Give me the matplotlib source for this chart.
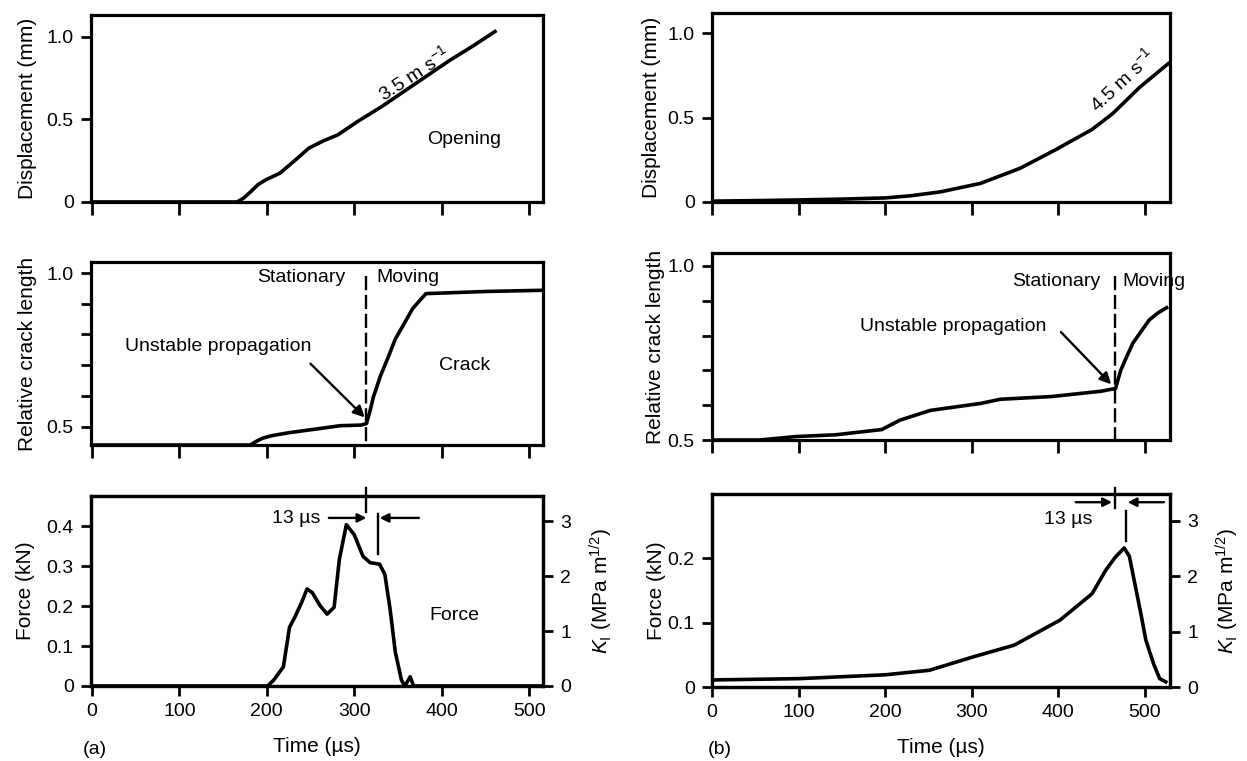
import numpy as np
import matplotlib
matplotlib.use('Agg')
import matplotlib.pyplot as plt

plt.rcParams['font.family'] = ['Liberation Sans', 'DejaVu Sans']
plt.rcParams['mathtext.fontset'] = 'custom'
plt.rcParams['mathtext.rm'] = 'Liberation Sans'
plt.rcParams['mathtext.it'] = 'Liberation Sans:italic'
plt.rcParams['font.size'] = 14
plt.rcParams['axes.labelsize'] = 15

# (a) 3.5 m/s
t_disp_a = [0, 166, 174, 182, 190, 199, 215, 232, 248, 265, 281, 305, 331, 370, 409, 435, 461]
disp_a = [0, 0, 0.025, 0.064, 0.105, 0.134, 0.174, 0.25, 0.325, 0.37, 0.405, 0.49, 0.575, 0.715, 0.855, 0.94, 1.03]

t_crack_a = [0, 181, 188, 195, 205, 225, 251, 284, 308, 314, 318, 322, 330, 339, 347, 356, 367, 382, 450, 516]
crack_a = [0.44, 0.44, 0.452, 0.462, 0.47, 0.48, 0.49, 0.503, 0.505, 0.51, 0.55, 0.597, 0.665, 0.727, 0.785, 0.83, 0.885, 0.933, 0.94, 0.944]

t_force_a = [0, 201, 208, 215, 219, 226, 232, 240, 246, 252, 261, 269, 277, 283, 291, 300,
             310, 318, 329, 335, 341, 347, 354, 358, 364, 368, 516]
force_a = [0, 0, 0.015, 0.036, 0.048, 0.147, 0.172, 0.21, 0.243, 0.234, 0.201, 0.18, 0.197, 0.317, 0.404, 0.379,
           0.325, 0.309, 0.305, 0.28, 0.193, 0.085, 0.015, 0, 0.023, 0, 0]

# (b) 4.5 m/s
t_disp_b = [0, 50, 100, 150, 200, 230, 264, 310, 356, 397, 439, 463, 494, 527]
disp_b = [0.005, 0.008, 0.012, 0.017, 0.024, 0.037, 0.06, 0.11, 0.2, 0.31, 0.43, 0.525, 0.68, 0.82]

t_crack_b = [0, 55, 97, 143, 196, 217, 252, 310, 333, 393, 449, 466, 472, 479, 486, 495, 505, 515, 525]
crack_b = [0.5, 0.5, 0.51, 0.515, 0.53, 0.557, 0.585, 0.605, 0.617, 0.625, 0.64, 0.648, 0.70, 0.74, 0.778, 0.81, 0.845, 0.865, 0.88]

t_force_b = [0, 100, 200, 251, 302, 349, 402, 439, 455, 466, 476, 482, 489, 496, 501, 510, 517, 524]
force_b = [0.011, 0.013, 0.019, 0.026, 0.047, 0.065, 0.104, 0.145, 0.182, 0.202, 0.216, 0.203, 0.156, 0.109, 0.073, 0.036, 0.013, 0.008]

x_ticks = [0, 100, 200, 300, 400, 500]
k_ticks = [0, 1, 2, 3]

LW = 2.6
SPINE = 2.3
ARR = dict(arrowstyle='-|>', color='black', lw=1.7, shrinkA=0, shrinkB=0)


def style(ax):
    for s in ax.spines.values():
        s.set_linewidth(SPINE)
    ax.tick_params(direction='out', length=7.5, width=2.0, pad=5, labelsize=14)


fig = plt.figure(figsize=(12.47, 7.61), dpi=100)

ax1 = fig.add_axes([0.0730, 0.7346, 0.3625, 0.2457])
ax2 = fig.add_axes([0.0730, 0.4152, 0.3625, 0.2405])
ax3 = fig.add_axes([0.0730, 0.0986, 0.3625, 0.2497])
bx1 = fig.add_axes([0.5710, 0.7346, 0.3673, 0.2484])
bx2 = fig.add_axes([0.5710, 0.4218, 0.3673, 0.2457])
bx3 = fig.add_axes([0.5710, 0.0972, 0.3673, 0.2536])

for ax in [ax1, ax2, ax3, bx1, bx2, bx3]:
    style(ax)
    ax.set_xticks(x_ticks)
for ax in [ax1, ax2, bx1, bx2]:
    ax.tick_params(axis='x', length=9.5)

# ---- (a) displacement
ax1.plot(t_disp_a, disp_a, color='black', lw=LW)
ax1.set_xlim(-1, 516)
ax1.set_ylim(0, 1.13)
ax1.set_yticks([0, 0.5, 1.0])
ax1.set_yticklabels(['0', '0.5', '1.0'])
ax1.set_xticklabels([])
ax1.set_ylabel('Displacement (mm)')
ax1.yaxis.set_label_coords(-0.119, 0.5)
ax1.text(368, 0.776, '3.5 m s$^{-1}$', rotation=33, ha='center', va='center', fontsize=14)
ax1.text(426, 0.375, 'Opening', ha='center', va='center', fontsize=14)

# ---- (a) crack
ax2.plot(t_crack_a, crack_a, color='black', lw=LW)
ax2.set_xlim(-1, 516)
ax2.set_ylim(0.44, 1.036)
ax2.set_yticks([0.5, 0.6, 0.7, 0.8, 0.9, 1.0])
ax2.set_yticklabels(['0.5', '', '', '', '', '1.0'])
ax2.set_xticklabels([])
ax2.set_ylabel('Relative crack length')
ax2.yaxis.set_label_coords(-0.119, 0.5)
ax2.plot([313, 313], [0.99, 0.44], color='black', lw=1.7, ls=(0, (6, 2)))
ax2.text(290, 0.985, 'Stationary', ha='right', va='center', fontsize=14)
ax2.text(325, 0.985, 'Moving', ha='left', va='center', fontsize=14)
ax2.text(426, 0.70, 'Crack', ha='center', va='center', fontsize=14)
ax2.text(145, 0.76, 'Unstable propagation', ha='center', va='center', fontsize=14)
ax2.annotate('', xy=(312, 0.53), xytext=(250, 0.705), arrowprops=dict(ARR, mutation_scale=17))

# ---- (a) force
ax3.plot(t_force_a, force_a, color='black', lw=LW)
ax3.set_xlim(-1, 516)
ax3.set_ylim(0, 0.476)
ax3.set_yticks([0, 0.1, 0.2, 0.3, 0.4])
ax3.set_yticklabels(['0', '0.1', '0.2', '0.3', '0.4'])
ax3.set_ylabel('Force (kN)')
ax3.yaxis.set_label_coords(-0.124, 0.5)
ax3.set_xlabel('Time (µs)', labelpad=12)
ax3.plot([314, 314], [0.497, 0.435], color='black', lw=1.7, clip_on=False)
ax3.plot([327, 327], [0.43, 0.33], color='black', lw=1.7)
ax3.annotate('', xy=(314, 0.421), xytext=(271, 0.421), arrowprops=dict(ARR, mutation_scale=13))
ax3.annotate('', xy=(329, 0.421), xytext=(374, 0.421), arrowprops=dict(ARR, mutation_scale=13))
ax3.text(234, 0.419, '13 µs', ha='center', va='center', fontsize=14)
ax3.text(415, 0.176, 'Force', ha='center', va='center', fontsize=14)
ak = ax3.twinx()
style(ak)
ak.set_ylim(0, 0.476 * 7.28)
ak.set_yticks(k_ticks)
ak.set_yticklabels([str(k) for k in k_ticks])
ak.set_ylabel(r'$K_\mathrm{I}$ (MPa m$^{1/2}$)')
ak.yaxis.set_label_coords(1.10, 0.5)
fig.text(95 / 1247, 1 - 750 / 761, '(a)', ha='center', va='center', fontsize=14)

# ---- (b) displacement
bx1.plot(t_disp_b, disp_b, color='black', lw=LW)
bx1.set_xlim(0, 529)
bx1.set_ylim(0, 1.12)
bx1.set_yticks([0, 0.5, 1.0])
bx1.set_yticklabels(['0', '0.5', '1.0'])
bx1.set_xticklabels([])
bx1.set_ylabel('Displacement (mm)')
bx1.yaxis.set_label_coords(-0.111, 0.5)
bx1.text(473, 0.72, '4.5 m s$^{-1}$', rotation=43, ha='center', va='center', fontsize=14)

# ---- (b) crack
bx2.plot(t_crack_b, crack_b, color='black', lw=LW)
bx2.set_xlim(0, 529)
bx2.set_ylim(0.5, 1.037)
bx2.set_yticks([0.5, 0.6, 0.7, 0.8, 0.9, 1.0])
bx2.set_yticklabels(['0.5', '', '', '', '', '1.0'])
bx2.set_xticklabels([])
bx2.set_ylabel('Relative crack length')
bx2.yaxis.set_label_coords(-0.103, 0.5)
bx2.plot([465, 465], [0.97, 0.5], color='black', lw=1.7, ls=(0, (6, 2)))
bx2.text(448, 0.955, 'Stationary', ha='right', va='center', fontsize=14)
bx2.text(474, 0.955, 'Moving', ha='left', va='center', fontsize=14)
bx2.text(278, 0.825, 'Unstable propagation', ha='center', va='center', fontsize=14)
bx2.annotate('', xy=(461, 0.66), xytext=(403, 0.81), arrowprops=dict(ARR, mutation_scale=17))

# ---- (b) force
bx3.plot(t_force_b, force_b, color='black', lw=LW)
bx3.set_xlim(0, 529)
bx3.set_ylim(0, 0.2997)
bx3.set_yticks([0, 0.1, 0.2])
bx3.set_yticklabels(['0', '0.1', '0.2'])
bx3.set_ylabel('Force (kN)')
bx3.yaxis.set_label_coords(-0.10, 0.5)
bx3.set_xlabel('Time (µs)', labelpad=12)
bx3.plot([465, 465], [0.309, 0.278], color='black', lw=1.7, clip_on=False)
bx3.plot([478, 478], [0.273, 0.226], color='black', lw=1.7)
bx3.annotate('', xy=(462, 0.287), xytext=(420, 0.287), arrowprops=dict(ARR, mutation_scale=13))
bx3.annotate('', xy=(480, 0.287), xytext=(522, 0.287), arrowprops=dict(ARR, mutation_scale=13))
bx3.text(411, 0.26, '13 µs', ha='center', va='center', fontsize=14)
bk = bx3.twinx()
style(bk)
bk.set_ylim(0, 0.2997 * 11.62)
bk.set_yticks(k_ticks)
bk.set_yticklabels([str(k) for k in k_ticks])
bk.set_ylabel(r'$K_\mathrm{I}$ (MPa m$^{1/2}$)')
bk.yaxis.set_label_coords(1.095, 0.5)
fig.text(720 / 1247, 1 - 750 / 761, '(b)', ha='center', va='center', fontsize=14)

plt.savefig('out.png', dpi=100)
